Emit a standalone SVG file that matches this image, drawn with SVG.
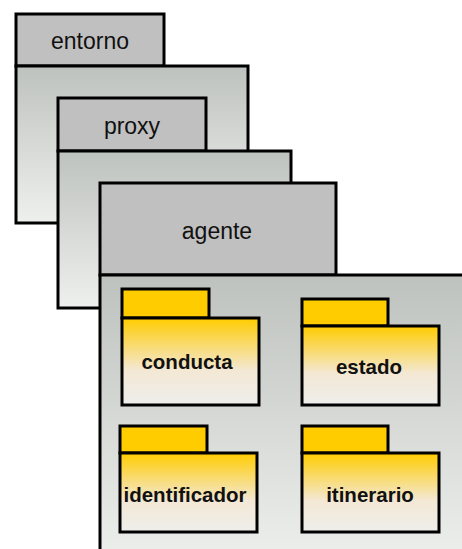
<svg xmlns="http://www.w3.org/2000/svg" width="462" height="549" viewBox="0 0 462 549">
  <defs>
    <linearGradient id="grayBody" x1="0" y1="0" x2="0" y2="1">
      <stop offset="0" stop-color="#bec2be"/>
      <stop offset="1" stop-color="#eef0ee"/>
    </linearGradient>
    <linearGradient id="yellowBody" x1="0" y1="0" x2="0" y2="1">
      <stop offset="0" stop-color="#ffcc00"/>
      <stop offset="0.6" stop-color="#f3e8d4"/>
      <stop offset="1" stop-color="#eeeeec"/>
    </linearGradient>
    <style>
      .tab { fill: #c0c0c0; stroke: #000; stroke-width: 3; }
      .body { fill: url(#grayBody); stroke: #000; stroke-width: 3; }
      .ftab { fill: #ffcc00; stroke: #000; stroke-width: 3; }
      .fbody { fill: url(#yellowBody); stroke: #000; stroke-width: 3; }
      .pkg { font-family: "Liberation Sans", Arial, sans-serif; font-size: 23px; fill: #111; text-anchor: middle; }
      .sub { font-family: "Liberation Sans", Arial, sans-serif; font-size: 20.5px; font-weight: bold; fill: #111; text-anchor: middle; }
    </style>
  </defs>

  <rect width="462" height="549" fill="#ffffff"/>

  <!-- outer package: entorno -->
  <g id="entorno">
    <rect class="tab" x="16" y="14" width="148" height="52"/>
    <rect class="body" x="16" y="66" width="232" height="157"/>
    <text class="pkg" x="90" y="49">entorno</text>
  </g>

  <!-- nested package: proxy -->
  <g id="proxy">
    <rect class="tab" x="58" y="98" width="148" height="53"/>
    <rect class="body" x="58" y="151" width="233" height="157"/>
    <text class="pkg" x="132" y="134">proxy</text>
  </g>

  <!-- innermost package: agente -->
  <g id="agente">
    <rect class="tab" x="100" y="183" width="236" height="92"/>
    <rect class="body" x="100" y="275" width="375" height="290"/>
    <text class="pkg" x="217" y="239">agente</text>
  </g>

  <!-- sub-packages of agente -->
  <g id="conducta">
    <rect class="ftab" x="122" y="289" width="87" height="29"/>
    <rect class="fbody" x="122" y="318" width="137" height="87"/>
    <text class="sub" x="187" y="369">conducta</text>
  </g>

  <g id="estado">
    <rect class="ftab" x="302" y="299" width="86" height="27"/>
    <rect class="fbody" x="302" y="326" width="137" height="79"/>
    <text class="sub" x="369" y="374">estado</text>
  </g>

  <g id="identificador">
    <rect class="ftab" x="120" y="426" width="87" height="27"/>
    <rect class="fbody" x="120" y="453" width="137" height="79"/>
    <text class="sub" x="185" y="502">identificador</text>
  </g>

  <g id="itinerario">
    <rect class="ftab" x="302" y="426" width="86" height="27"/>
    <rect class="fbody" x="302" y="453" width="137" height="79"/>
    <text class="sub" x="370" y="502">itinerario</text>
  </g>

  <g id="connectors"/>
</svg>
